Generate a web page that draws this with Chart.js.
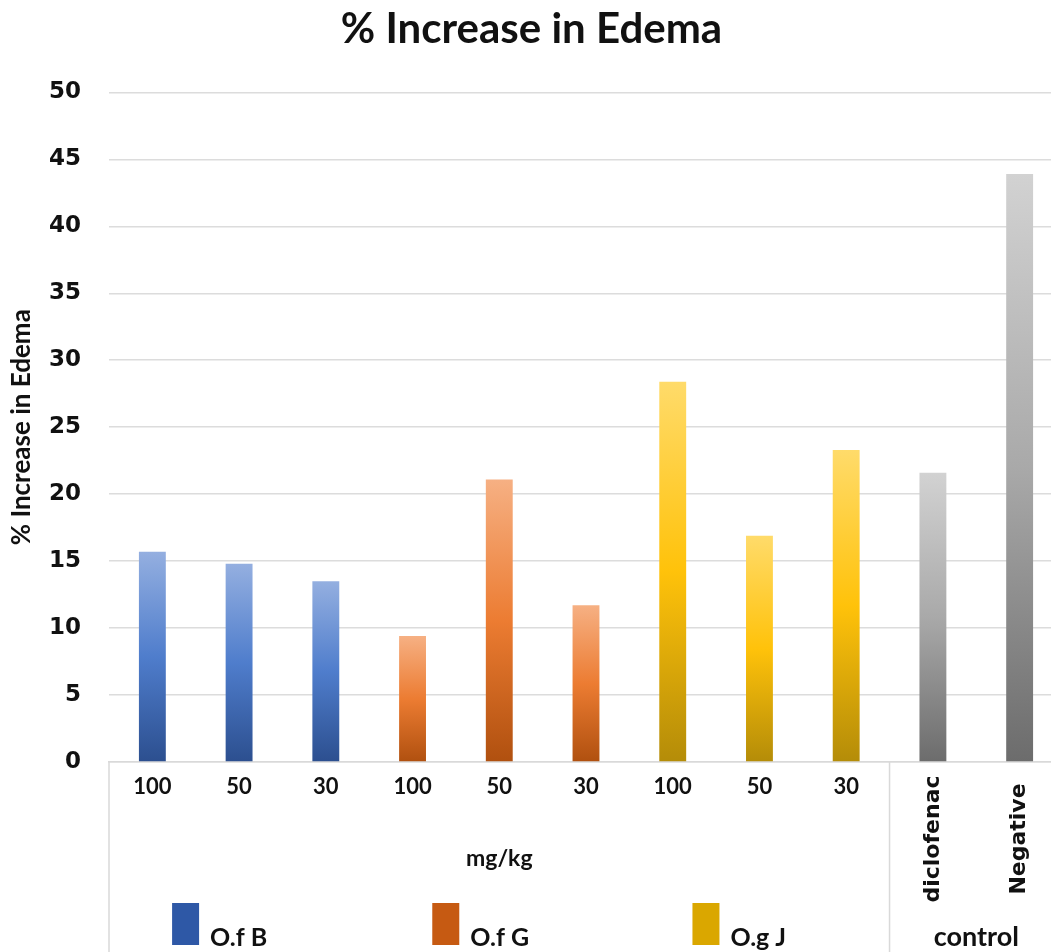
<!DOCTYPE html>
<html>
<head>
<meta charset="utf-8">
<title>% Increase in Edema</title>
<script src="https://cdn.jsdelivr.net/npm/chart.js@4.4.1/dist/chart.umd.min.js"></script>
<style>
  html, body { margin: 0; padding: 0; background: #ffffff; overflow: hidden; }
  #wrap { position: relative; width: 1063px; height: 952px; }
</style>
</head>
<body>
<div id="wrap"><canvas id="chart"></canvas></div>
<script>
// Categories along the x axis: three doses per extract, then the two controls
const categories = ['100', '50', '30', '100', '50', '30', '100', '50', '30', 'diclofenac', 'Negative'];

// % increase in edema per group
const ofB     = [15.7, 14.8, 13.5, null, null, null, null, null, null, null, null];
const ofG     = [null, null, null, 9.4, 21.1, 11.7, null, null, null, null, null];
const ogJ     = [null, null, null, null, null, null, 28.4, 16.9, 23.3, null, null];
const control = [null, null, null, null, null, null, null, null, null, 21.6, 43.9];

// Group labels under the axis
const groupNames = ['O.f B', 'O.f G', 'O.g J'];
const doseUnit = 'mg/kg';
const controlName = 'control';

// Y axis ticks
const yTicks = [0, 5, 10, 15, 20, 25, 30, 35, 40, 45, 50];

// Gradient fills (top, middle, bottom) and swatch colours
const blueStops   = ['#94afe0', '#4f7dcc', '#2c4f8f'];
const orangeStops = ['#f6b083', '#ec7c32', '#b0500f'];
const yellowStops = ['#ffdb6a', '#ffc20a', '#b48c08'];
const greyStops   = ['#d2d2d2', '#a9a9a9', '#6c6c6c'];
const swatches = ['#2e58a6', '#c65a12', '#daa700'];

function barFill(stops) {
  return (ctx) => {
    const chart = ctx.chart;
    const y = chart.scales && chart.scales.y;
    if (ctx.type !== 'data' || ctx.raw == null || !y) return stops[1];
    const top = y.getPixelForValue(ctx.raw);
    const base = y.getPixelForValue(0);
    if (!isFinite(top) || !isFinite(base) || top === base) return stops[1];
    const g = chart.ctx.createLinearGradient(0, top, 0, base);
    g.addColorStop(0, stops[0]);
    g.addColorStop(0.5, stops[1]);
    g.addColorStop(1, stops[2]);
    return g;
  };
}

// Multi-level category axis: doses, unit, group swatches, control names
const categoryAxisPlugin = {
  id: 'categoryAxis',
  afterDraw(chart) {
    const c = chart.ctx;
    const x = chart.scales.x;
    const area = chart.chartArea;
    const step = x.getPixelForValue(1) - x.getPixelForValue(0);
    const half = step / 2;
    const bottom = chart.height;

    c.save();
    // separators
    c.strokeStyle = '#d9d9d9';
    c.lineWidth = 1.5;
    const seps = [x.getPixelForValue(0) - half, x.getPixelForValue(8) + half];
    seps.forEach((sx) => {
      c.beginPath();
      c.moveTo(sx, area.bottom);
      c.lineTo(sx, bottom);
      c.stroke();
    });

    c.fillStyle = '#111111';
    // dose labels
    c.font = 'bold 22px Lato';
    c.textAlign = 'center';
    c.textBaseline = 'middle';
    for (let i = 0; i < 9; i++) {
      c.fillText(categories[i], x.getPixelForValue(i), area.bottom + 25);
    }

    // rotated control labels
    c.font = 'bold 22px "DejaVu Sans"';
    for (let i = 9; i < categories.length; i++) {
      c.save();
      c.translate(x.getPixelForValue(i), area.bottom + 77);
      c.rotate(-Math.PI / 2);
      c.fillText(categories[i], 0, 0);
      c.restore();
    }

    // unit label
    c.font = 'bold 23px Lato';
    const unitX = (x.getPixelForValue(0) + x.getPixelForValue(8)) / 2;
    c.fillText(doseUnit, unitX, area.bottom + 97);

    // group swatches with names
    c.font = 'bold 25px Lato';
    c.textAlign = 'left';
    c.textBaseline = 'alphabetic';
    for (let gI = 0; gI < 3; gI++) {
      const gx = x.getPixelForValue(gI * 3 + 1);
      c.fillStyle = swatches[gI];
      c.fillRect(gx - 67, area.bottom + 141, 27, 42);
      c.fillStyle = '#111111';
      c.fillText(groupNames[gI], gx - 29, area.bottom + 184);
    }

    // control group name
    c.font = 'bold 27px Lato';
    c.textAlign = 'center';
    const ctrlX = (x.getPixelForValue(9) + x.getPixelForValue(10)) / 2;
    c.fillText(controlName, ctrlX, area.bottom + 184);
    c.restore();
  }
};

const commonBar = { barPercentage: 0.31, categoryPercentage: 1.0, borderWidth: 0 };

new Chart(document.getElementById('chart'), {
  type: 'bar',
  data: {
    labels: categories,
    datasets: [
      Object.assign({ label: groupNames[0], data: ofB, backgroundColor: barFill(blueStops) }, commonBar),
      Object.assign({ label: groupNames[1], data: ofG, backgroundColor: barFill(orangeStops) }, commonBar),
      Object.assign({ label: groupNames[2], data: ogJ, backgroundColor: barFill(yellowStops) }, commonBar),
      Object.assign({ label: controlName, data: control, backgroundColor: barFill(greyStops) }, commonBar)
    ]
  },
  options: {
    responsive: true,
    maintainAspectRatio: false,
    animation: false,
    skipNull: true,
    layout: { padding: 0 },
    plugins: {
      legend: { display: false },
      tooltip: { enabled: false },
      title: {
        display: true,
        text: '% Increase in Edema',
        color: '#111111',
        font: { family: 'Lato', size: 42, weight: 'bold' },
        padding: { top: 4, bottom: 38 }
      }
    },
    scales: {
      x: {
        grid: { display: false },
        border: { display: true, color: '#d9d9d9', width: 1.5 },
        ticks: { display: false },
        afterFit: (s) => { s.height = 190; }
      },
      y: {
        min: 0,
        max: 50,
        afterBuildTicks: (s) => { s.ticks = yTicks.map((v) => ({ value: v })); },
        grid: { color: '#dcdcdc', lineWidth: 1.5, drawTicks: false },
        border: { display: false },
        ticks: {
          color: '#111111',
          padding: 28,
          font: { family: '"DejaVu Sans"', size: 23, weight: 'bold' }
        },
        title: {
          display: true,
          text: '% Increase in Edema',
          color: '#111111',
          font: { family: 'Lato', size: 26, weight: 'bold' },
          padding: { top: 6, bottom: 0 }
        },
        afterFit: (s) => { s.width = 109; }
      }
    }
  },
  plugins: [categoryAxisPlugin]
});
</script>
</body>
</html>
